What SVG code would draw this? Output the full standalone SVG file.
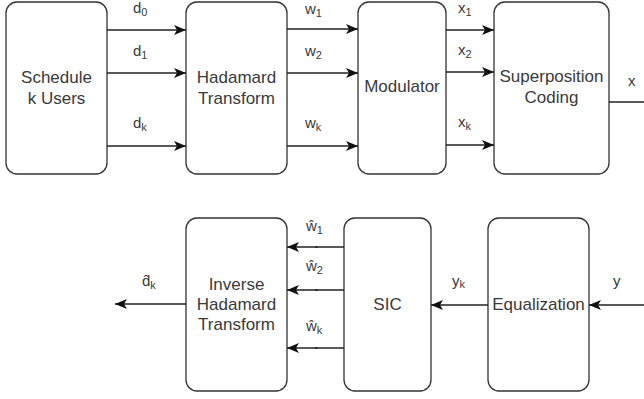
<svg xmlns="http://www.w3.org/2000/svg" width="644" height="399" viewBox="0 0 644 399">
  <style>
    .box { fill: #ffffff; stroke: #333333; stroke-width: 1.3; }
    .lbl { font-family: "Liberation Sans", Arial, sans-serif; font-size: 17px; fill: #3a3a3a; text-anchor: middle; }
    .sym { font-family: "Liberation Sans", Arial, sans-serif; font-size: 15px; fill: #3a3a3a; }
    .sub { font-size: 11px; }
    .wire { fill: none; stroke: #222222; stroke-width: 1.3; }
    .dot { fill: #222222; }
  </style>
  <defs>
    <marker id="arrow" markerUnits="userSpaceOnUse" markerWidth="13" markerHeight="11" refX="12" refY="5" orient="auto">
      <path d="M0,0 L12,5 L0,10 L3,5 Z" fill="#111111"/>
    </marker>
  </defs>

  <rect width="644" height="399" fill="#ffffff"/>

  <!-- transmitter chain -->
  <g id="schedule">
    <rect class="box" x="6" y="2" width="101" height="172" rx="11"/>
    <text class="lbl" x="56.5" y="83">Schedule</text>
    <text class="lbl" x="56.5" y="104">k Users</text>
  </g>
  <g id="hadamard">
    <rect class="box" x="186" y="2" width="101" height="172" rx="11"/>
    <text class="lbl" x="236.5" y="83">Hadamard</text>
    <text class="lbl" x="236.5" y="104">Transform</text>
  </g>
  <g id="modulator">
    <rect class="box" x="358" y="2" width="88" height="172" rx="11"/>
    <text class="lbl" x="402" y="92">Modulator</text>
  </g>
  <g id="superposition">
    <rect class="box" x="494" y="2" width="115" height="172" rx="11"/>
    <text class="lbl" x="551.5" y="82">Superposition</text>
    <text class="lbl" x="551.5" y="103">Coding</text>
  </g>

  <!-- receiver chain -->
  <g id="inverse-hadamard">
    <rect class="box" x="186" y="218" width="101" height="173" rx="11"/>
    <text class="lbl" x="236.5" y="290">Inverse</text>
    <text class="lbl" x="236.5" y="310">Hadamard</text>
    <text class="lbl" x="236.5" y="330">Transform</text>
  </g>
  <g id="sic">
    <rect class="box" x="344" y="218" width="87" height="173" rx="11"/>
    <text class="lbl" x="387.5" y="310">SIC</text>
  </g>
  <g id="equalization">
    <rect class="box" x="488" y="218" width="101" height="173" rx="11"/>
    <text class="lbl" x="538.5" y="310">Equalization</text>
  </g>

  <g id="connectors">
    <!-- schedule to hadamard -->
    <path class="wire" d="M107,30 H186" marker-end="url(#arrow)"/>
    <path class="wire" d="M107,73 H186" marker-end="url(#arrow)"/>
    <path class="wire" d="M107,146 H186" marker-end="url(#arrow)"/>
    <!-- hadamard to modulator -->
    <path class="wire" d="M287,29 H358" marker-end="url(#arrow)"/>
    <path class="wire" d="M287,73 H358" marker-end="url(#arrow)"/>
    <path class="wire" d="M287,146 H358" marker-end="url(#arrow)"/>
    <!-- modulator to superposition -->
    <path class="wire" d="M446,30 H494" marker-end="url(#arrow)"/>
    <path class="wire" d="M446,72 H494" marker-end="url(#arrow)"/>
    <path class="wire" d="M446,145 H494" marker-end="url(#arrow)"/>
    <!-- superposition output -->
    <path class="wire" d="M609,102 H644"/>
    <!-- channel output into equalizer -->
    <path class="wire" d="M644,305 H589" marker-end="url(#arrow)"/>
    <!-- equalizer to SIC -->
    <path class="wire" d="M488,305 H431" marker-end="url(#arrow)"/>
    <!-- SIC to inverse hadamard -->
    <path class="wire" d="M344,247 H287" marker-end="url(#arrow)"/>
    <path class="wire" d="M344,290 H287" marker-end="url(#arrow)"/>
    <path class="wire" d="M344,348 H287" marker-end="url(#arrow)"/>
    <rect class="dot" x="315.5" y="246" width="2" height="2"/>
    <rect class="dot" x="315.5" y="289" width="2" height="2"/>
    <rect class="dot" x="315.5" y="347" width="2" height="2"/>
    <!-- final output -->
    <path class="wire" d="M186,304 H115" marker-end="url(#arrow)"/>
  </g>

  <g id="signal-labels">
    <text class="sym" x="133" y="13">d<tspan class="sub" dy="3">0</tspan></text>
    <text class="sym" x="133" y="56">d<tspan class="sub" dy="3">1</tspan></text>
    <text class="sym" x="133" y="128">d<tspan class="sub" dy="3">k</tspan></text>

    <text class="sym" x="305" y="14">w<tspan class="sub" dy="3">1</tspan></text>
    <text class="sym" x="305" y="56">w<tspan class="sub" dy="3">2</tspan></text>
    <text class="sym" x="305" y="128">w<tspan class="sub" dy="3">k</tspan></text>

    <text class="sym" x="458" y="13">x<tspan class="sub" dy="3">1</tspan></text>
    <text class="sym" x="458" y="55">x<tspan class="sub" dy="3">2</tspan></text>
    <text class="sym" x="458" y="127">x<tspan class="sub" dy="3">k</tspan></text>

    <text class="sym" x="628" y="86">x</text>

    <!-- estimated symbols with circumflex -->
    <text class="sym" x="306" y="231">ŵ<tspan class="sub" dy="3">1</tspan></text>
    <text class="sym" x="306" y="271">ŵ<tspan class="sub" dy="3">2</tspan></text>
    <text class="sym" x="306" y="331">ŵ<tspan class="sub" dy="3">k</tspan></text>

    <text class="sym" x="142" y="286">d̂<tspan class="sub" dy="3">k</tspan></text>

    <text class="sym" x="452" y="286">y<tspan class="sub" dy="2">k</tspan></text>
    <text class="sym" x="613" y="286">y</text>
  </g>
</svg>
